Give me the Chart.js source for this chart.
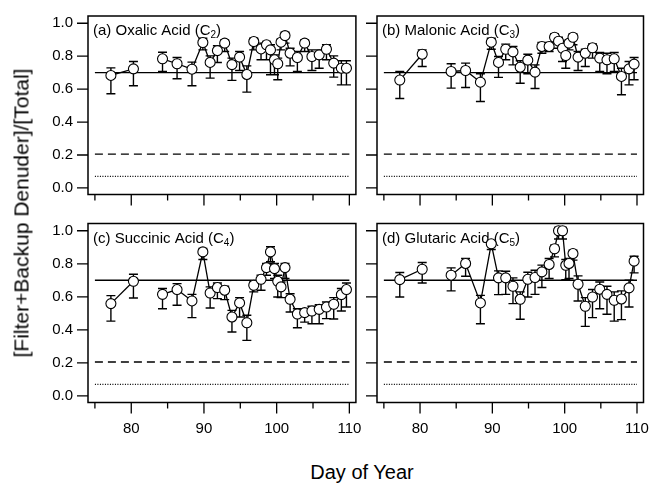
<!DOCTYPE html>
<html>
<head>
<meta charset="utf-8">
<script src="https://cdn.jsdelivr.net/npm/chart.js@4.4.1/dist/chart.umd.min.js"></script>
<style>
  html, body { margin: 0; padding: 0; background: #fff; }
  #wrap { position: relative; width: 651px; height: 483px; overflow: hidden;
          font-family: 'Liberation Sans', Arial, sans-serif; color: #000; }
  canvas { position: absolute; }
  #ytitle { position: absolute; left: 21px; top: 213px; white-space: nowrap;
            font-size: 21px; line-height: 21px;
            transform: translate(-50%, -50%) rotate(-90deg); }
  #xtitle { position: absolute; left: 0; width: 724px; top: 462px; text-align: center;
            font-size: 20px; line-height: 20px; }
</style>
</head>
<body>
<div id="wrap">
  <canvas id="pa" width="362" height="215" style="left:0;top:0"></canvas>
  <canvas id="pb" width="289" height="215" style="left:362px;top:0"></canvas>
  <canvas id="pc" width="362" height="225" style="left:0;top:215px"></canvas>
  <canvas id="pd" width="289" height="225" style="left:362px;top:215px"></canvas>
  <div id="ytitle">[Filter+Backup Denuder]/[Total]</div>
  <div id="xtitle">Day of Year</div>
</div>
<script>
// sampling days (shared by all four acids)
const days = [77.2, 80.3, 84.3, 86.3, 88.35, 89.85, 90.85, 91.85, 92.85, 93.85,
  94.9, 95.9, 96.85, 97.85, 98.6, 99.15, 99.7, 100.15, 100.6, 101.15,
  101.85, 102.85, 103.85, 104.85, 105.85, 106.85, 107.85, 108.9, 109.6];
const breakAfter = [1]; // no line between day 80 and day 84

// (a) oxalic
const oxalic = [0.683, 0.723, 0.784, 0.754, 0.721, 0.883, 0.762, 0.834, 0.879, 0.749,
  0.794, 0.689, 0.889, 0.844, 0.869, 0.838, 0.778, 0.754, 0.885, 0.925,
  0.818, 0.792, 0.879, 0.798, 0.808, 0.842, 0.758, 0.727, 0.727];
const oxalicLow = [0.572, 0.620, 0.707, 0.663, 0.620, 0.838, 0.667, 0.762, 0.828, 0.653,
  0.713, 0.582, 0.838, 0.778, 0.778, 0.687, 0.687, 0.657, 0.838, 0.879,
  0.741, 0.707, 0.828, 0.713, 0.727, 0.778, 0.673, 0.626, 0.626];
const oxalicHigh = [0.729, 0.768, 0.824, 0.792, 0.764, 0.909, 0.802, 0.863, 0.899, 0.788,
  0.828, 0.741, 0.909, 0.879, 0.889, 0.869, 0.808, 0.788, 0.903, 0.945,
  0.848, 0.828, 0.899, 0.838, 0.838, 0.869, 0.802, 0.772, 0.772];

// (b) malonic
const malonic = [0.655, 0.812, 0.707, 0.713, 0.642, 0.885, 0.762, 0.842, 0.826, 0.733,
  0.776, 0.703, 0.859, 0.859, 0.915, 0.891, 0.848, 0.804, 0.879, 0.915,
  0.794, 0.818, 0.851, 0.788, 0.778, 0.784, 0.677, 0.723, 0.752];
const malonicLow = [0.543, 0.737, 0.606, 0.610, 0.525, 0.842, 0.671, 0.778, 0.747, 0.636,
  0.693, 0.604, 0.818, 0.828, 0.879, 0.848, 0.768, 0.727, 0.838, 0.869,
  0.713, 0.737, 0.788, 0.707, 0.693, 0.707, 0.566, 0.626, 0.657];
const malonicHigh = [0.707, 0.838, 0.754, 0.758, 0.693, 0.909, 0.798, 0.873, 0.859, 0.772,
  0.812, 0.747, 0.883, 0.883, 0.935, 0.915, 0.869, 0.838, 0.899, 0.935,
  0.828, 0.842, 0.875, 0.822, 0.818, 0.822, 0.727, 0.768, 0.792];

// (c) succinic
const succinic = [0.559, 0.694, 0.615, 0.644, 0.575, 0.872, 0.623, 0.656, 0.640, 0.478,
  0.563, 0.443, 0.670, 0.706, 0.777, 0.872, 0.771, 0.694, 0.660, 0.777,
  0.585, 0.496, 0.504, 0.514, 0.524, 0.538, 0.555, 0.613, 0.644];
const succinicLow = [0.453, 0.593, 0.528, 0.549, 0.474, 0.826, 0.532, 0.589, 0.583, 0.387,
  0.478, 0.336, 0.630, 0.640, 0.731, 0.812, 0.711, 0.599, 0.595, 0.711,
  0.508, 0.413, 0.447, 0.437, 0.437, 0.468, 0.466, 0.514, 0.538];
const succinicHigh = [0.607, 0.737, 0.650, 0.680, 0.615, 0.893, 0.660, 0.684, 0.664, 0.518,
  0.595, 0.488, 0.696, 0.731, 0.802, 0.903, 0.802, 0.731, 0.690, 0.802,
  0.619, 0.528, 0.528, 0.543, 0.553, 0.569, 0.595, 0.650, 0.684];

// (d) glutaric
const glutaric = [0.704, 0.767, 0.731, 0.802, 0.563, 0.921, 0.715, 0.715, 0.664, 0.585,
  0.706, 0.717, 0.751, 0.796, 0.891, 1.0, 1.0, 0.791, 0.802, 0.862,
  0.676, 0.543, 0.599, 0.646, 0.615, 0.579, 0.587, 0.654, 0.816];
const glutaricLow = [0.599, 0.684, 0.636, 0.725, 0.437, 0.887, 0.613, 0.615, 0.559, 0.464,
  0.599, 0.615, 0.656, 0.711, 0.842, 0.95, 0.95, 0.704, 0.711, 0.822,
  0.575, 0.421, 0.474, 0.528, 0.494, 0.453, 0.462, 0.538, 0.745];
const glutaricHigh = [0.747, 0.808, 0.775, 0.832, 0.609, 0.941, 0.757, 0.755, 0.715, 0.630,
  0.749, 0.761, 0.792, 0.832, 0.913, 1.02, 1.02, 0.826, 0.832, 0.883,
  0.727, 0.595, 0.644, 0.690, 0.664, 0.630, 0.636, 0.700, 0.846];

// reference levels (solid, dashed, dotted) drawn from day 75 to 110
const refLevels = [0.70, 0.205, 0.07];
const refDays = [75, 110];

const xTicks = [75, 80, 85, 90, 95, 100, 105, 110];
const xLabelled = [80, 90, 100, 110];
const yTicks = [0, 0.2, 0.4, 0.6, 0.8, 1.0];

const FONT = '"Liberation Sans", Arial, sans-serif';

const decoPlugin = {
  id: 'deco',
  beforeDatasetsDraw(chart, args, opts) {
    const { ctx, chartArea: a, scales: { x, y } } = chart;
    ctx.save();
    // panel label with subscript
    ctx.fillStyle = '#000';
    ctx.textBaseline = 'alphabetic';
    ctx.textAlign = 'left';
    let tx = a.left + 5;
    const ty = a.top + 19;
    ctx.font = '15px ' + FONT;
    ctx.fillText(opts.label, tx, ty);
    tx += ctx.measureText(opts.label).width;
    ctx.font = '10px ' + FONT;
    ctx.fillText(opts.sub, tx, ty + 3);
    tx += ctx.measureText(opts.sub).width;
    ctx.font = '15px ' + FONT;
    ctx.fillText(')', tx, ty);

    // error bars
    ctx.strokeStyle = '#000';
    ctx.lineWidth = 1.4;
    ctx.beginPath();
    opts.low.forEach((lo, i) => {
      const px = x.getPixelForValue(days[i]);
      const p1 = y.getPixelForValue(lo);
      const p2 = y.getPixelForValue(opts.high[i]);
      ctx.moveTo(px, p1); ctx.lineTo(px, p2);
      ctx.moveTo(px - 4.5, p1); ctx.lineTo(px + 4.5, p1);
      ctx.moveTo(px - 4.5, p2); ctx.lineTo(px + 4.5, p2);
    });
    ctx.stroke();
    ctx.restore();
  },
  afterDraw(chart) {
    const { ctx, chartArea: a, scales: { x, y } } = chart;
    ctx.save();
    ctx.strokeStyle = '#000';
    ctx.lineWidth = 1.5;
    ctx.strokeRect(a.left, a.top, a.right - a.left, a.bottom - a.top);
    ctx.lineWidth = 1.3;
    ctx.beginPath();
    yTicks.forEach(v => {
      const py = y.getPixelForValue(v);
      ctx.moveTo(a.left - 11, py); ctx.lineTo(a.left, py);
    });
    xTicks.forEach(v => {
      const px = x.getPixelForValue(v);
      const len = v % 10 === 0 ? 11 : 6;
      ctx.moveTo(px, a.bottom); ctx.lineTo(px, a.bottom + len);
    });
    ctx.stroke();
    ctx.restore();
  }
};

function noPad(s) {
  s.paddingTop = 0; s.paddingBottom = 0; s.paddingLeft = 0; s.paddingRight = 0;
}

function refSet(level, dash, width) {
  return {
    data: refDays.map(d => ({ x: d, y: level })),
    showLine: true, borderColor: '#000', borderWidth: width, borderDash: dash,
    pointRadius: 0, order: 2
  };
}

function makePanel(id, label, sub, vals, low, high, opt) {
  const ctx = document.getElementById(id).getContext('2d');
  return new Chart(ctx, {
    type: 'scatter',
    data: {
      datasets: [
        refSet(refLevels[0], [], 1.4),
        refSet(refLevels[1], [8, 5], 1.4),
        refSet(refLevels[2], [1, 1.5], 1.2),
        {
          data: days.map((d, i) => ({ x: d, y: vals[i] })),
          showLine: true,
          borderColor: '#000',
          borderWidth: 1.3,
          segment: {
            borderColor: c => breakAfter.includes(c.p0DataIndex) ? 'rgba(0,0,0,0)' : '#000'
          },
          pointRadius: 5,
          pointBackgroundColor: '#fff',
          pointBorderColor: '#000',
          pointBorderWidth: 1.1,
          order: 0
        }
      ]
    },
    options: {
      responsive: false,
      animation: false,
      layout: { padding: { top: opt.padTop, right: opt.padRight, left: 0, bottom: 0 } },
      plugins: {
        legend: { display: false },
        tooltip: { enabled: false },
        deco: { label: label, sub: sub, low: low, high: high }
      },
      scales: {
        x: {
          type: 'linear', min: 74.05, max: 110.9,
          grid: { display: false, drawTicks: false },
          border: { display: false },
          afterBuildTicks: s => { s.ticks = xTicks.map(v => ({ value: v })); },
          afterFit: s => { s.height = opt.xHeight; noPad(s); },
          ticks: {
            display: opt.showX, autoSkip: false, maxRotation: 0, padding: 17,
            color: '#000', font: { family: FONT, size: 15 },
            callback: v => xLabelled.includes(v) ? String(v) : ''
          }
        },
        y: {
          type: 'linear', min: -0.04, max: 1.044,
          grid: { display: false, drawTicks: false },
          border: { display: false },
          afterBuildTicks: s => { s.ticks = yTicks.map(v => ({ value: v })); },
          afterFit: s => { s.width = opt.yWidth; noPad(s); },
          ticks: {
            display: opt.showY, padding: 15,
            color: '#000', font: { family: FONT, size: 15 },
            callback: v => v.toFixed(1)
          }
        }
      }
    },
    plugins: [decoPlugin]
  });
}

makePanel('pa', '(a) Oxalic Acid (C', '2', oxalic, oxalicLow, oxalicHigh,
  { padTop: 16, padRight: 6, xHeight: 20.5, yWidth: 88, showX: false, showY: true });
makePanel('pb', '(b) Malonic Acid (C', '3', malonic, malonicLow, malonicHigh,
  { padTop: 16, padRight: 7.5, xHeight: 20.5, yWidth: 15, showX: false, showY: false });
makePanel('pc', '(c) Succinic Acid (C', '4', succinic, succinicLow, succinicHigh,
  { padTop: 8.5, padRight: 6, xHeight: 37.5, yWidth: 88, showX: true, showY: true });
makePanel('pd', '(d) Glutaric Acid (C', '5', glutaric, glutaricLow, glutaricHigh,
  { padTop: 8.5, padRight: 7.5, xHeight: 37.5, yWidth: 15, showX: true, showY: false });
</script>
</body>
</html>
